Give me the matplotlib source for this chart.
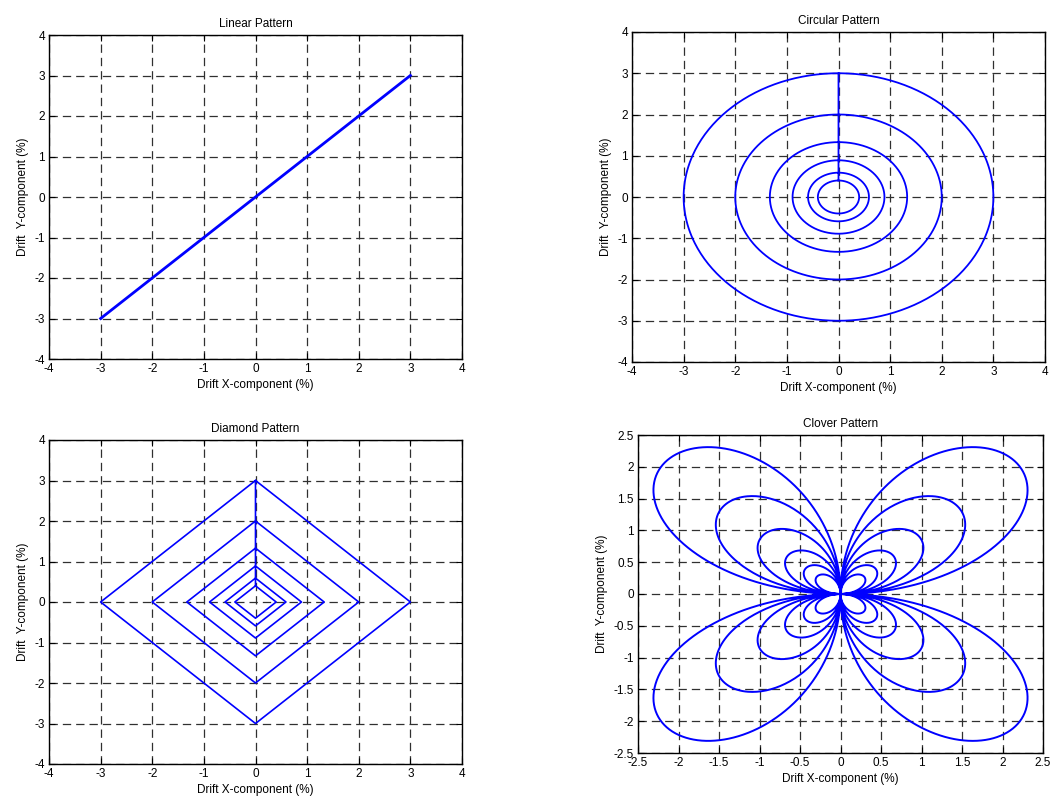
import numpy as np
import matplotlib
matplotlib.use("Agg")
import matplotlib.pyplot as plt

plt.rcParams["font.family"] = ["Liberation Sans", "DejaVu Sans"]
plt.rcParams["font.size"] = 8.5
plt.rcParams["lines.scale_dashes"] = False

# パターンの振幅（外側から内側へ）
amplitudes = [3.0, 2.0, 1.33, 0.89, 0.59, 0.40]
# 直線パターンの端点
linear_x = [-3.0, 3.0]
linear_y = [-3.0, 3.0]

titles = ["Linear Pattern", "Circular Pattern", "Diamond Pattern", "Clover Pattern"]
xlabel = "Drift X-component (%)"
ylabel = "Drift  Y-component (%)"

line_color = "#0000ff"

fig = plt.figure(figsize=(10.51, 7.96), dpi=100)
W, H = 1051.0, 796.0


def make_axes(left, right, top, bottom):
    return fig.add_axes([left / W, 1 - bottom / H, (right - left) / W, (bottom - top) / H])


ax_lin = make_axes(49, 462, 35, 359)
ax_cir = make_axes(632, 1045, 32, 362)
ax_dia = make_axes(49, 462, 440, 764)
ax_clo = make_axes(638, 1043, 435, 753)

# 直線
ax_lin.plot(linear_x, linear_y, color=line_color, lw=2.0)

# 円（上端から次の円へつなぐ）
theta = np.linspace(0, 2 * np.pi, 400) + np.pi / 2
cx, cy = [], []
for a in amplitudes:
    cx.extend(a * np.cos(theta))
    cy.extend(a * np.sin(theta))
ax_cir.plot(cx, cy, color=line_color, lw=1.3)

# ひし形
dx, dy = [], []
for a in amplitudes:
    dx.extend([0, a, 0, -a, 0])
    dy.extend([a, 0, -a, 0, a])
ax_dia.plot(dx, dy, color=line_color, lw=1.2)

# クローバー（4枚葉のバラ曲線）
phi = np.linspace(0, 2 * np.pi, 800)
kx, ky = [], []
for a in amplitudes:
    r = a * np.sin(2 * phi)
    kx.extend(r * np.cos(phi))
    ky.extend(r * np.sin(phi))
ax_clo.plot(kx, ky, color=line_color, lw=1.4)

limits = [(-4, 4), (-4, 4), (-4, 4), (-2.5, 2.5)]
steps = [1, 1, 1, 0.5]
for ax, title, lim, step in zip([ax_lin, ax_cir, ax_dia, ax_clo], titles, limits, steps):
    ax.set_xlim(*lim)
    ax.set_ylim(*lim)
    ticks = np.arange(lim[0], lim[1] + step / 2, step)
    ax.set_xticks(ticks)
    ax.set_yticks(ticks)
    ax.set_xticklabels([f"{t:g}" for t in ticks])
    ax.set_yticklabels([f"{t:g}" for t in ticks])
    ax.grid(True, color="#303030", lw=0.9, linestyle=(0, (6.0, 3.6)))
    ax.set_axisbelow(True)
    ax.tick_params(direction="in", length=4, width=0.8, top=True, right=True, pad=3, labelsize=8.5)
    for sp in ax.spines.values():
        sp.set_linewidth(1.0)
        sp.set_color("black")
    ax.set_title(title, fontsize=8.5, pad=6)
    ax.set_xlabel(xlabel, fontsize=8.5, labelpad=3)
    ax.set_ylabel(ylabel, fontsize=8.5, labelpad=4)

fig.savefig("out.png", dpi=100)
